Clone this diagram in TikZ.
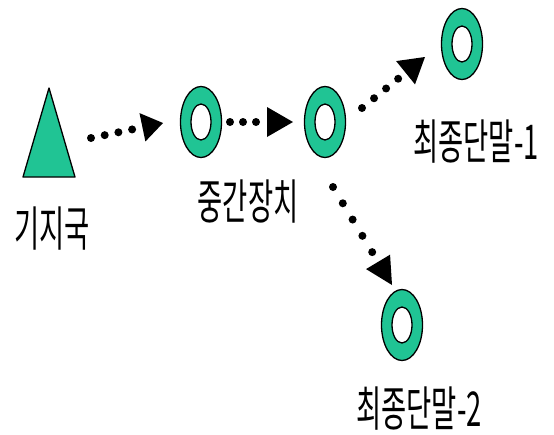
\documentclass[tikz,border=0pt]{standalone}
\usepackage{fontspec}
\newfontfamily\krfont[FakeStretch=0.57]{Noto Sans CJK KR}
\usetikzlibrary{arrows.meta,calc,shapes.geometric}
\definecolor{ringgreen}{RGB}{32,196,148}
\begin{document}
\begin{tikzpicture}[x=1pt,y=-1pt,
  ring/.style={ellipse, draw=black, line width=1.3pt, fill=ringgreen,
    minimum width=41pt, minimum height=71pt, inner sep=0pt},
  hole/.style={ellipse, draw=black, line width=1.3pt, fill=white,
    minimum width=20pt, minimum height=36pt, inner sep=0pt},
  lbl/.style={font=\krfont\fontsize{48}{52}\selectfont, inner sep=0pt,
    text depth=0pt, anchor=base},
  dots/.style={line width=8pt, line cap=round, dash pattern=on 0pt off #1},
  arrowhead/.style 2 args={-{Triangle[length=#1,width=#2,line width=0pt]}}]
\useasboundingbox (0,0) rectangle (554,434);
\fill[white] (0,0) rectangle (554,434);
% base station (triangle)
\coordinate (bs) at (49,147);
\filldraw[fill=ringgreen, draw=black, line width=1.3pt, line join=round]
  (49,88) -- (23,177) -- (75,177) -- cycle;
% rings
\node[ring] (r1) at (201,122) {};
\node[hole] (h1) at (r1) {};
\node[ring] (r2) at (325,122) {};
\node[hole] (h2) at (r2) {};
\node[ring] (r3) at (462,44) {};
\node[hole] (h3) at (r3) {};
\node[ring] (r4) at (402,325) {};
\node[hole] (h4) at (r4) {};
% labels
\node[lbl] (lbs) at (52,246) {기지국};
\node[lbl] (lmid) at (248,219) {중간장치};
\node[lbl] (le1) at (476,159) {최종단말-1};
\node[lbl] (le2) at (419,426) {최종단말-2};
% dotted arrows
\draw[dots=14pt, arrowhead={21pt}{29pt}] ($(bs)+(42,-9)$) -- ($(r1)+(-38,1)$);
\draw[dots=13pt, arrowhead={26pt}{30pt}] ($(r1)+(29,0)$) -- ($(r2)+(-32,0)$);
\draw[dots=15.5pt, arrowhead={25pt}{30pt}] ($(r2)+(37,-14)$) -- ($(r3)+(-37,13)$);
\draw[dots=19pt, arrowhead={27pt}{28pt}] ($(r2)+(8,65)$) -- ($(r4)+(-10,-40)$);
\end{tikzpicture}
\end{document}
